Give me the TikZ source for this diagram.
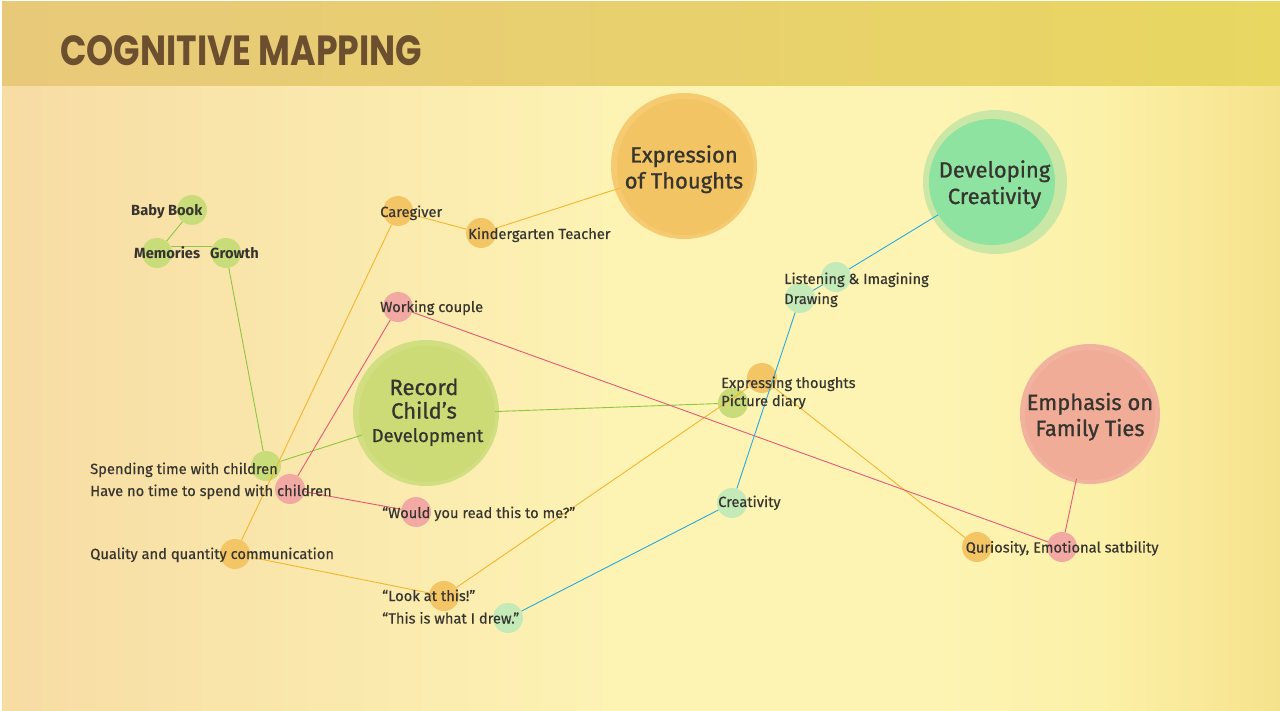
\documentclass[tikz,border=0pt]{standalone}
\usepackage{graphicx}
\usepackage{fontspec}
\setmainfont{Fira Sans}
\newfontfamily\labfont{Fira Sans}[FakeBold=0.35]
\newfontfamily\bigfont{Fira Sans}[FakeBold=0.9]
\newfontfamily\titlefont{Poppins}
\definecolor{bgL}{HTML}{F7DCA4}
\definecolor{bgA}{HTML}{FAE8AC}
\definecolor{bgM}{HTML}{FDF4B4}
\definecolor{bgN}{HTML}{FCF1A8}
\definecolor{bgR}{HTML}{F6E28C}
\definecolor{barL}{HTML}{E8C97A}
\definecolor{barR}{HTML}{E8D761}
\definecolor{titlec}{HTML}{6B4F2E}
\definecolor{txt}{HTML}{36342F}
\definecolor{gdot}{HTML}{C9DC7A}
\definecolor{gline}{HTML}{8DC63F}
\definecolor{odot}{HTML}{F4C564}
\definecolor{oline}{HTML}{F5B52E}
\definecolor{pdot}{HTML}{F2A9A3}
\definecolor{pline}{HTML}{E8587B}
\definecolor{ldot}{HTML}{C4EAB8}
\definecolor{bline}{HTML}{27A8E0}
\definecolor{recIn}{HTML}{CCDB76}
\definecolor{recOut}{HTML}{D2DE82}
\definecolor{expIn}{HTML}{F3C463}
\definecolor{expOut}{HTML}{F5CA70}
\definecolor{devIn}{HTML}{8EE3A0}
\definecolor{devOut}{HTML}{CBE7A6}
\definecolor{empIn}{HTML}{F0AC96}
\definecolor{empOut}{HTML}{F2B39E}
\pgfdeclarehorizontalshading{bgshade}{100bp}{color(0bp)=(bgL); color(25bp)=(bgL); color(37.5bp)=(bgA); color(50bp)=(bgM); color(61bp)=(bgM); color(68bp)=(bgN); color(75bp)=(bgR); color(100bp)=(bgR)}
\begin{document}
\begin{tikzpicture}[x=1pt,y=-1pt,
  dot/.style={circle, minimum size=30pt, inner sep=0pt},
  big/.style={circle, inner sep=0pt},
  lab/.style={anchor=base west, inner sep=0pt, text=txt, font=\labfont\fontsize{14.7}{18}\selectfont},
  blab/.style={anchor=base west, inner sep=0pt, text=txt, font=\fontsize{14.7}{18}\selectfont\bfseries},
  btext/.style={anchor=base, inner sep=0pt, text=txt, font=\bigfont\fontsize{22}{26}\selectfont},
  ln/.style={line width=0.9pt}]
\useasboundingbox (0,0) rectangle (1280,711);
% background
\fill[white] (0,0) rectangle (1280,711);
\shade[shading=bgshade] (2,86) rectangle (1280,711);
\shade[left color=barL, right color=barR] (2,2) rectangle (1280,86);
\node[anchor=base west, inner sep=0pt, text=titlec] (title) at (60,66)
  {\resizebox{362pt}{30pt}{\titlefont\bfseries COGNITIVE MAPPING}};
% big circles
\fill[recOut] (426,413) circle (73);
\node[big, fill=recIn, minimum size=136pt] (rec) at (427,414) {};
\fill[expOut] (684,166) circle (73);
\node[big, fill=expIn, minimum size=136pt] (expr) at (685,167) {};
\fill[devOut] (995,182) circle (72);
\node[big, fill=devIn, minimum size=126pt] (dev) at (992,182) {};
\fill[empOut] (1090,414) circle (70);
\node[big, fill=empIn, minimum size=130pt] (emph) at (1090,415) {};
% small circles
\node[dot, fill=gdot] (bb) at (192,210) {};
\node[dot, fill=gdot] (mem) at (157,253) {};
\node[dot, fill=gdot] (gro) at (226,253) {};
\node[dot, fill=gdot] (spend) at (266,466) {};
\node[dot, fill=gdot] (pic) at (733,403) {};
\node[dot, fill=odot] (care) at (398,211) {};
\node[dot, fill=odot] (kin) at (481,233) {};
\node[dot, fill=odot] (qual) at (235,554) {};
\node[dot, fill=odot] (look) at (444,596) {};
\node[dot, fill=odot] (exth) at (762,378) {};
\node[dot, fill=odot] (quri) at (977,547) {};
\node[dot, fill=pdot] (work) at (398,307) {};
\node[dot, fill=pdot] (nto) at (290,489) {};
\node[dot, fill=pdot] (would) at (416,512) {};
\node[dot, fill=pdot] (emo) at (1062,547) {};
\node[dot, fill=ldot] (lis) at (836,277) {};
\node[dot, fill=ldot] (drw) at (800,298) {};
\node[dot, fill=ldot] (crea) at (732,503) {};
\node[dot, fill=ldot] (drew) at (508,618) {};
% connectors
\draw[ln, gline] (bb) -- (mem);
\draw[ln, gline] (mem.25) -- (gro.155);
\draw[ln, gline] (gro) -- (spend);
\draw[ln, gline] (spend) -- (rec);
\draw[ln, gline] (rec) -- (pic);
\draw[ln, oline] (care) -- (kin);
\draw[ln, oline] (kin) -- (expr);
\draw[ln, oline] (care) -- (qual);
\draw[ln, oline] (qual) -- (look);
\draw[ln, oline] (look) -- (exth);
\draw[ln, oline] (exth) -- (quri);
\draw[ln, pline] (work) -- (nto);
\draw[ln, pline] (nto) -- (would);
\draw[ln, pline] (work) -- (emo);
\draw[ln, pline] (emo) -- (emph);
\draw[ln, bline] (dev) -- (lis);
\draw[ln, bline] (lis) -- (drw);
\draw[ln, bline] (drw) -- (crea);
\draw[ln, bline] (crea) -- (drew);
% big circle texts
\node[btext] (t1) at (684,162.5) {Expression};
\node[btext] (t2) at (684,188.5) {of Thoughts};
\node[btext] (t3) at (994.5,177.5) {Developing};
\node[btext] (t4) at (994.5,204) {Creativity};
\node[btext] (t5) at (424,395) {Record};
\node[btext] (t6) at (424,418.5) {Child’s};
\node[btext, font=\bigfont\fontsize{18.5}{22}\selectfont] (t7) at (427.5,442) {Development};
\node[btext] (t8) at (1090,410) {Emphasis on};
\node[btext] (t9) at (1090,436) {Family Ties};
% labels
\node[blab] (l1) at (131,216) {Baby Book};
\node[blab] (l2) at (134,259) {Memories};
\node[blab] (l3) at (210,259) {Growth};
\node[lab] (l4) at (380,217) {Caregiver};
\node[lab] (l5) at (468,239) {Kindergarten Teacher};
\node[lab] (l6) at (380,312) {Working couple};
\node[lab] (l7) at (90,474) {Spending time with children};
\node[lab] (l8) at (90,496) {Have no time to spend with children};
\node[lab] (l9) at (382,518) {“Would you read this to me?”};
\node[lab] (l10) at (90,559) {Quality and quantity communication};
\node[lab] (l11) at (382,601) {“Look at this!”};
\node[lab] (l12) at (382,623.5) {“This is what I drew.”};
\node[lab] (l13) at (784,284) {Listening \& Imagining};
\node[lab] (l14) at (784,304) {Drawing};
\node[lab] (l15) at (721,388) {Expressing thoughts};
\node[lab] (l16) at (721,406) {Picture diary};
\node[lab] (l17) at (718,507) {Creativity};
\node[lab] (l18) at (965.5,552.5) {Quriosity, Emotional satbility};
\end{tikzpicture}
\end{document}
